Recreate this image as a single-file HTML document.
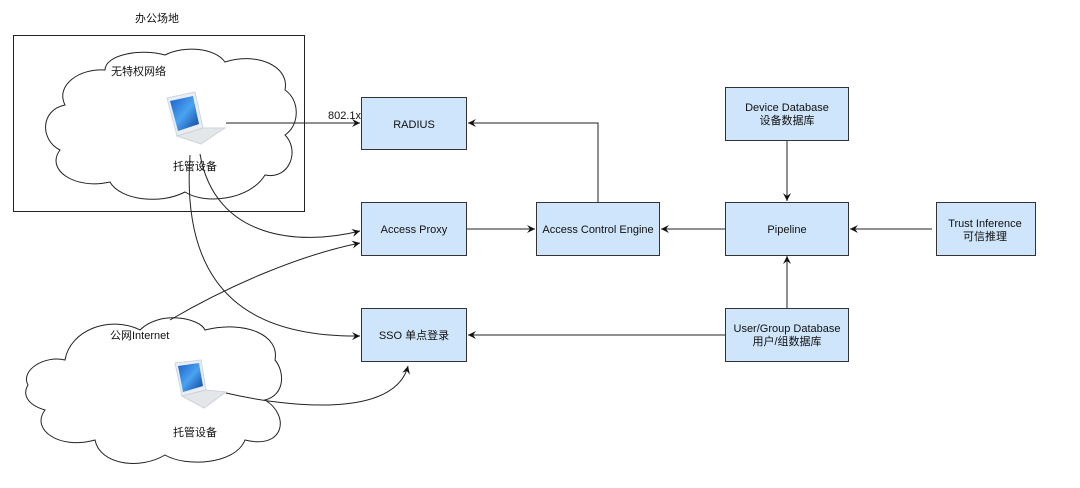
<!DOCTYPE html>
<html><head><meta charset="utf-8"><style>
body{margin:0;background:#fff;}
svg text{font-family:"Liberation Sans","Noto Sans CJK SC",sans-serif;font-size:11px;fill:#111;}
</style></head><body>
<svg width="1080" height="483" viewBox="0 0 1080 483" xmlns="http://www.w3.org/2000/svg">
<defs>
<marker id="a" markerWidth="10" markerHeight="10" refX="8" refY="5" orient="auto" markerUnits="userSpaceOnUse">
<path d="M0,1 L8,5 L0,9 L3,5 Z" fill="#111"/></marker>
<linearGradient id="scr" x1="0" y1="0" x2="1" y2="1"><stop offset="0" stop-color="#1c5fc9"/><stop offset="0.5" stop-color="#4aa3f0"/><stop offset="1" stop-color="#0d3f9e"/></linearGradient>
</defs>
<text x="135" y="22" font-size="11">办公场地</text>
<rect x="13.5" y="35.5" width="291" height="176" fill="none" stroke="#222"/>
<path d="M105,70 C105,55 140,48 165,55 C185,45 215,48 225,62 C255,52 290,65 285,90 C300,100 300,125 285,135 C300,150 290,180 265,175 C250,200 205,205 185,192 C160,205 120,200 110,182 C75,190 45,170 60,150 C40,140 40,110 65,105 C55,85 80,68 105,70 Z" fill="#fff" stroke="#222"/>
<text x="111" y="75">无特权网络</text>
<g transform="translate(165,92)">
<path d="M2,6 L30,0 L38,36 L12,44 Z" fill="#e8eef4" stroke="#cfd6de"/>
<path d="M5,9 L28,4 L34,32 L13,39 Z" fill="url(#scr)"/>
<path d="M12,44 L38,36 L60,36 L36,52 Z" fill="#e4e7ea" stroke="#cfd3d8"/>
</g>
<text x="173" y="170">托管设备</text>
<path d="M28,385 C20,370 45,355 65,360 C70,330 110,315 140,330 C160,310 200,318 205,330 C245,320 280,335 275,360 C285,372 285,395 265,400 C290,415 285,450 245,440 C235,465 185,467 165,455 C140,470 100,465 95,440 C60,450 30,430 45,410 C28,405 22,395 28,385 Z" fill="#fff" stroke="#222"/>
<text x="110" y="339">公网Internet</text>
<g transform="translate(174,360)">
<path d="M1,3 L27,0 L32,30 L8,36 Z" fill="#e8eef4" stroke="#cfd6de"/>
<path d="M4,6 L25,3 L29,26 L9,32 Z" fill="url(#scr)"/>
<path d="M8,36 L32,30 L52,32 L30,48 Z" fill="#e4e7ea" stroke="#cfd3d8"/>
</g>
<text x="173" y="436">托管设备</text>
<g stroke="#222" fill="none" stroke-width="1">
<path d="M226,123 L360,123" marker-end="url(#a)"/>
<path d="M200,154 C215,240 300,246 360,231" marker-end="url(#a)"/>
<path d="M190,155 C180,300 260,337 360,336" marker-end="url(#a)"/>
<path d="M170,320 C230,285 300,255 360,243" marker-end="url(#a)"/>
<path d="M226,393 C290,408 395,418 408,366" marker-end="url(#a)"/>
<path d="M598,202 L598,123 L468,123" marker-end="url(#a)"/>
<path d="M467,229 L535,229" marker-end="url(#a)"/>
<path d="M725,229 L661,229" marker-end="url(#a)"/>
<path d="M787,141 L787,201" marker-end="url(#a)"/>
<path d="M787,308 L787,256" marker-end="url(#a)"/>
<path d="M932,229 L850,229" marker-end="url(#a)"/>
<path d="M725,335 L468,335" marker-end="url(#a)"/>
</g>
<text x="328" y="119">802.1x</text>
<g fill="#cfe5fb" stroke="#333">
<rect x="361.5" y="97.5" width="105" height="52"/>
<rect x="361.5" y="202.5" width="105" height="53"/>
<rect x="361.5" y="308.5" width="105" height="53"/>
<rect x="536.5" y="202.5" width="123" height="53"/>
<rect x="725.5" y="87.5" width="123" height="53"/>
<rect x="725.5" y="202.5" width="123" height="53"/>
<rect x="725.5" y="308.5" width="123" height="53"/>
<rect x="936.5" y="202.5" width="99" height="53"/>
</g>
<g text-anchor="middle">
<text x="414" y="128">RADIUS</text>
<text x="414" y="233">Access Proxy</text>
<text x="414" y="339">SSO 单点登录</text>
<text x="598" y="233">Access Control Engine</text>
<text x="787" y="111">Device Database</text>
<text x="787" y="124">设备数据库</text>
<text x="787" y="233">Pipeline</text>
<text x="787" y="332">User/Group Database</text>
<text x="787" y="345">用户/组数据库</text>
<text x="985" y="227">Trust Inference</text>
<text x="985" y="240">可信推理</text>
</g>
</svg>
</body></html>
